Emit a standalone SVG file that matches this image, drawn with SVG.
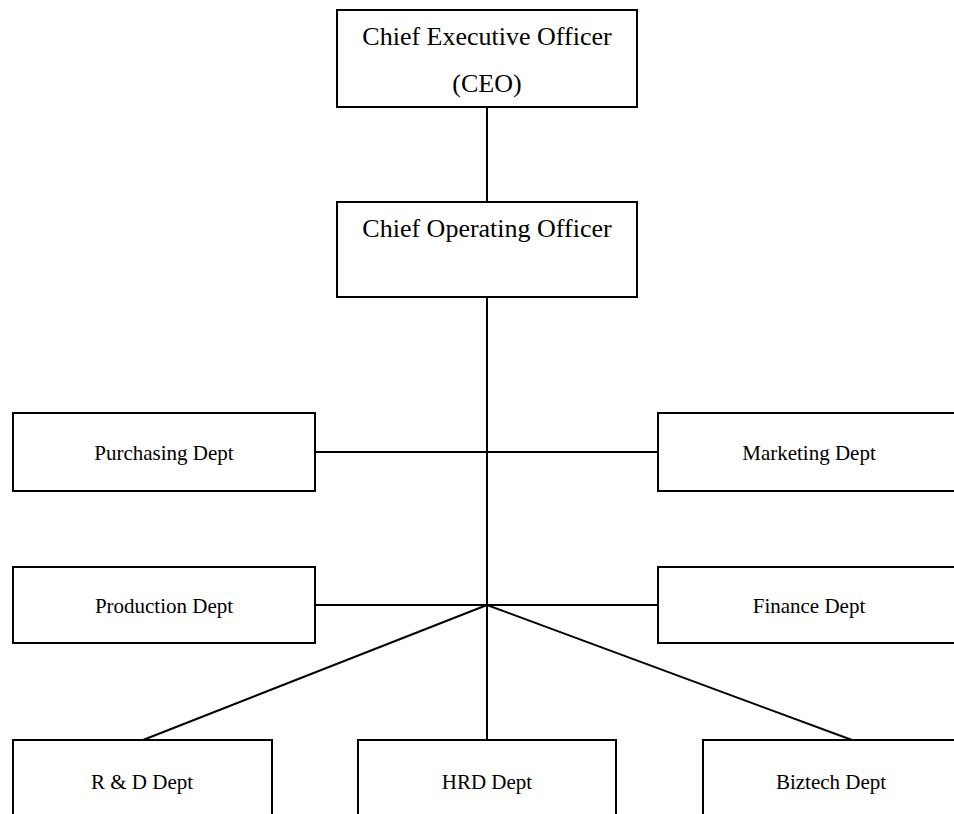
<svg xmlns="http://www.w3.org/2000/svg" width="954" height="814" viewBox="0 0 954 814">
<style>
.box{fill:#fff;stroke:#000;stroke-width:2}
.ln{fill:none;stroke:#000;stroke-width:2}
.big{font-family:"Liberation Serif","Times New Roman",serif;font-size:26px;fill:#000;text-anchor:middle}
.sm{font-family:"Liberation Serif","Times New Roman",serif;font-size:21px;fill:#000;text-anchor:middle}
</style>
<rect width="954" height="814" fill="#fff"/>
<g id="connectors">
<line class="ln" x1="487" y1="107" x2="487" y2="202"/>
<line class="ln" x1="487" y1="297" x2="487" y2="740"/>
<line class="ln" x1="315" y1="452" x2="658" y2="452"/>
<line class="ln" x1="315" y1="605" x2="658" y2="605"/>
<line class="ln" x1="487" y1="605" x2="143" y2="740"/>
<line class="ln" x1="487" y1="605" x2="852" y2="740"/>
</g>
<g id="ceo"><rect class="box" x="337" y="10" width="300" height="97"/><text class="big" x="487" y="45">Chief Executive Officer</text><text class="big" x="487" y="92">(CEO)</text></g>
<g id="coo"><rect class="box" x="337" y="202" width="300" height="95"/><text class="big" x="487" y="237">Chief Operating Officer</text></g>
<g id="purchasing"><rect class="box" x="13" y="413" width="302" height="78"/><text class="sm" x="164" y="460">Purchasing Dept</text></g>
<g id="marketing"><rect class="box" x="658" y="413" width="303" height="78"/><text class="sm" x="809" y="460">Marketing Dept</text></g>
<g id="production"><rect class="box" x="13" y="567" width="302" height="76"/><text class="sm" x="164" y="613">Production Dept</text></g>
<g id="finance"><rect class="box" x="658" y="567" width="303" height="76"/><text class="sm" x="809" y="613">Finance Dept</text></g>
<g id="rd"><rect class="box" x="13" y="740" width="259" height="90"/><text class="sm" x="142" y="789">R &amp; D Dept</text></g>
<g id="hrd"><rect class="box" x="358" y="740" width="258" height="90"/><text class="sm" x="487" y="789">HRD Dept</text></g>
<g id="biztech"><rect class="box" x="703" y="740" width="259" height="90"/><text class="sm" x="831" y="789">Biztech Dept</text></g>
</svg>
